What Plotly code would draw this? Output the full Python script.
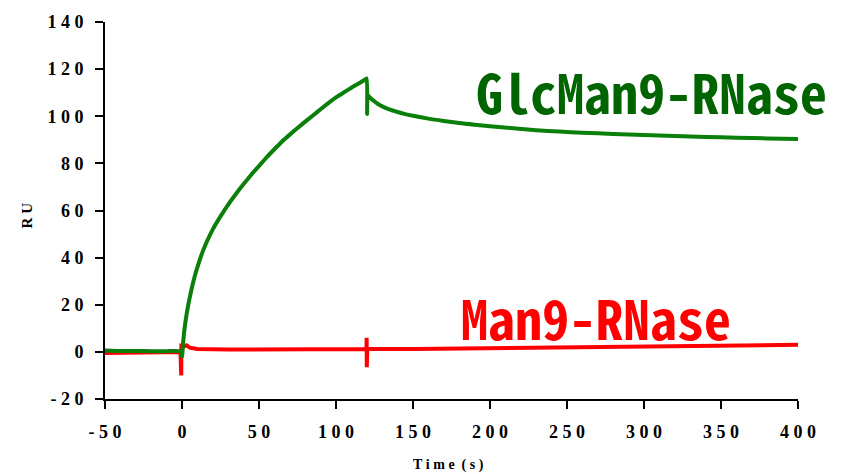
import plotly.graph_objects as go

# Sensorgram: binding response (RU) vs time (s)
glc_time = [-50, -40, -30, -20, -10, -1, 0, 0.6, 1.5, 3, 5, 8, 11, 14, 17, 20, 25, 30,
            35, 40, 45, 50, 55, 60, 65, 70, 75, 80, 85, 90, 95, 100, 105, 110, 115,
            119.5, 120, 120.2, 120.6, 121.5, 123, 125, 127, 130, 135, 140, 145, 150,
            160, 170, 180, 190, 200, 215, 230, 245, 260, 280, 300, 320, 340, 360,
            380, 400]
glc_ru = [0.6, 0.4, 0.4, 0.3, 0.3, 0.2, -2.0, 3.0, 9.0, 16.0, 23.0, 31.5, 38.0, 43.5,
          48.0, 52.0, 57.5, 62.5, 67.0, 71.2, 75.2, 78.9, 82.6, 86.0, 89.3, 92.2,
          95.0, 97.7, 100.3, 103.0, 105.6, 108.0, 110.1, 112.1, 114.0, 115.8,
          116.0, 101.0, 109.0, 108.3, 107.3, 106.3, 105.3, 104.2, 102.8, 101.8,
          100.9, 100.2, 99.0, 98.0, 97.1, 96.4, 95.8, 94.9, 94.1, 93.5, 93.0, 92.5,
          92.0, 91.6, 91.2, 90.9, 90.6, 90.3]

man_time = [-50, -40, -30, -20, -10, -1, -0.5, -0.4, -0.3, 0.5, 3, 5, 10, 30, 60, 100,
            119.8, 119.9, 120.0, 120.1, 120.3, 150, 200, 250, 300, 350, 400]
man_ru = [-0.5, -0.4, -0.2, -0.2, -0.1, 0.0, -10.0, 3.5, 2.5, 2.0, 2.8, 1.8, 1.2, 1.0,
          1.0, 1.0, 1.2, 6.0, -6.5, 1.2, 1.2, 1.2, 1.5, 2.0, 2.4, 2.7, 3.0]

x_ticks = [-50, 0, 50, 100, 150, 200, 250, 300, 350, 400]
y_ticks = [-20, 0, 20, 40, 60, 80, 100, 120, 140]

GAP = "\u00a0"


def spaced(s):
    return GAP.join(s)


serif_family = "Liberation Serif, Times New Roman, serif"
tick_font = dict(family=serif_family, size=18, color="black", weight="bold")
mono = "Noto Sans Mono CJK JP, DejaVu Sans Mono, monospace"

fig = go.Figure()
fig.add_trace(go.Scatter(x=man_time, y=man_ru, mode="lines",
                         line=dict(color="#ff0000", width=4), name="Man9-RNase"))
fig.add_trace(go.Scatter(x=glc_time, y=glc_ru, mode="lines", line_shape="spline",
                         line=dict(color="#0a7f0a", width=4, smoothing=0.6),
                         name="GlcMan9-RNase"))

axis_common = dict(showgrid=False, zeroline=False, showline=True,
                   linecolor="black", linewidth=2, ticks="outside", ticklen=8,
                   tickwidth=1.5, tickcolor="black", tickfont=tick_font)

fig.update_layout(
    width=844, height=474,
    margin=dict(l=105, r=46, t=15, b=75),
    paper_bgcolor="white", plot_bgcolor="white",
    showlegend=False,
    xaxis=dict(range=[-50, 400], tickvals=x_ticks,
               ticktext=[spaced(str(v)) for v in x_ticks],
               ticklabelstandoff=7, **axis_common),
    yaxis=dict(range=[-20, 140], tickvals=y_ticks,
               ticktext=[spaced(str(v)) for v in y_ticks],
               ticklabelstandoff=8, **axis_common),
    annotations=[
        dict(text=spaced("Time") + GAP + GAP + spaced("(s)"), xref="paper", yref="paper",
             x=(448 - 105) / 693, y=(474 - 466 - 75) / 384, showarrow=False,
             xanchor="center", yanchor="middle",
             font=dict(family=serif_family, size=14, color="black", weight="bold")),
        dict(text=spaced("RU"), xref="paper", yref="paper",
             x=(27 - 105) / 693, y=(399 - 212) / 384, showarrow=False,
             textangle=-90, xanchor="center", yanchor="middle",
             font=dict(family=serif_family, size=15, color="black", weight="bold")),
        dict(text="GlcMan9-RNase", x=305, y=111, showarrow=False,
             xanchor="center", yanchor="middle",
             font=dict(family=mono, size=54, color="#006400", weight="bold")),
        dict(text="Man9-RNase", x=269, y=15, showarrow=False,
             xanchor="center", yanchor="middle",
             font=dict(family=mono, size=54, color="#ff0000", weight="bold")),
    ],
)

fig.write_html("out.html")
